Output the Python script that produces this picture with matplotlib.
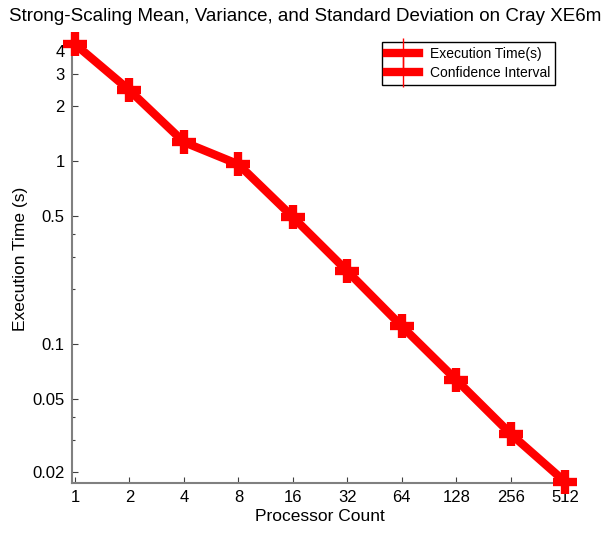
import matplotlib.pyplot as plt
from matplotlib.lines import Line2D
from matplotlib.legend_handler import HandlerTuple
from matplotlib.ticker import FixedLocator, NullFormatter, LogLocator

processors = [1, 2, 4, 8, 16, 32, 64, 128, 256, 512]
exec_time = [4.36, 2.44, 1.27, 0.96, 0.494, 0.25, 0.125, 0.0636, 0.0322, 0.0176]
x_labels = ['1', '2', '4', '8', '16', '32', '64', '128', '256', '512']
y_ticks = [0.02, 0.05, 0.1, 0.5, 1, 2, 3, 4]
y_labels = ['0.02', '0.05', '0.1', '0.5', '1', '2', '3', '4']

plt.rcParams['font.family'] = ['Liberation Sans', 'DejaVu Sans']

fig = plt.figure(figsize=(6.08, 5.33), dpi=100)
ax = fig.add_axes([0.118, 0.094, 0.815, 0.84])

ax.plot(processors, exec_time, color='red', linewidth=6, marker='+',
        markersize=17, markeredgewidth=6, clip_on=False, zorder=3)

ax.set_xscale('log', base=2)
ax.set_yscale('log')
ax.set_xlim(0.96, 525)
ax.set_ylim(0.0174, 4.88)

ax.xaxis.set_major_locator(FixedLocator(processors))
ax.set_xticklabels(x_labels)
ax.xaxis.set_minor_locator(FixedLocator([]))
ax.yaxis.set_major_locator(FixedLocator(y_ticks))
ax.set_yticklabels(y_labels)
ax.yaxis.set_minor_locator(LogLocator(base=10, subs=[0.2, 0.3, 0.4]))
ax.yaxis.set_minor_formatter(NullFormatter())

ax.tick_params(direction='in', labelsize=12, length=4, width=0.8, color='#404040', pad=5)
ax.tick_params(which='minor', direction='in', length=2, width=0.8, color='#404040')
ax.spines['top'].set_visible(False)
ax.spines['right'].set_visible(False)
for s in ['left', 'bottom']:
    ax.spines[s].set_color('#808080')
    ax.spines[s].set_linewidth(1.5)

ax.set_xlabel('Processor Count', fontsize=12.5, labelpad=3)
ax.set_ylabel('Execution Time (s)', fontsize=12.5, labelpad=3)
fig.text(0.502, 0.985, 'Strong-Scaling Mean, Variance, and Standard Deviation on Cray XE6m',
         fontsize=13.5, ha='center', va='top')

bar = Line2D([], [], color='red', linewidth=6)
vert = Line2D([], [], color='red', marker='|', markersize=22, markeredgewidth=1,
              linestyle='none')
ax.legend([(bar, vert), (bar, vert)], ['Execution Time(s)', 'Confidence Interval'],
          handler_map={tuple: HandlerTuple(ndivide=1)},
          loc='upper right', bbox_to_anchor=(0.99, 1.0), fontsize=10,
          fancybox=False, edgecolor='black', framealpha=1,
          handlelength=2.3, handletextpad=0.8, borderpad=0.35, labelspacing=0.35)

fig.savefig('out.png', dpi=100)
